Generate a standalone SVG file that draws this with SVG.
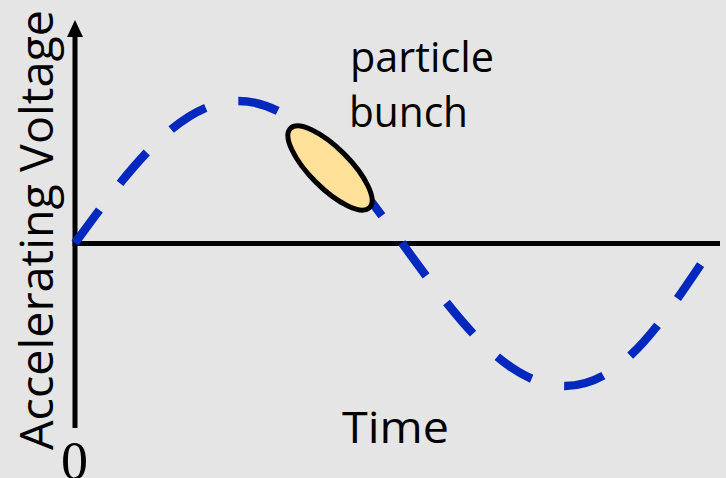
<svg xmlns="http://www.w3.org/2000/svg" width="726" height="478" viewBox="0 0 726 478">
  <style>
    .lbl { font-family: "Open Sans", "Noto Sans", sans-serif; fill: #000; }
    .axis { stroke: #000; stroke-width: 5; fill: none; }
    .wave { stroke: #0228BD; stroke-width: 8.5; fill: none; stroke-dasharray: 41 33.5; }
  </style>
  <rect x="0" y="0" width="726" height="478" fill="#e5e5e5"/>
  <g id="connectors">
    <line class="axis" x1="75" y1="428" x2="75" y2="34"/>
    <polygon points="75,20 67,37 83,37" fill="#000"/>
    <line class="axis" x1="72.5" y1="243.5" x2="720" y2="243.5"/>
    <path id="wave" class="wave" d="M75,243 C129.1,169.2 179.3,101 238.5,101 C297.7,101 347.9,169.2 402,243 C456,317.4 506,386 565,386 C620,386 660,325 705,258"/>
  </g>
  <g id="bunch">
    <ellipse cx="330" cy="168" rx="56" ry="20" transform="rotate(45 330 168)" fill="#FFE199" stroke="#000" stroke-width="5"/>
  </g>
  <g id="labels">
    <text class="lbl" x="350" y="72" font-size="42" textLength="144" lengthAdjust="spacingAndGlyphs">particle</text>
    <text class="lbl" x="349" y="127" font-size="42" textLength="119" lengthAdjust="spacingAndGlyphs">bunch</text>
    <text class="lbl" x="342" y="443" font-size="44" textLength="107" lengthAdjust="spacingAndGlyphs">Time</text>
    <text class="lbl" transform="translate(53 450) rotate(-90)" x="0" y="0" font-size="46" textLength="440" lengthAdjust="spacingAndGlyphs">Accelerating Voltage</text>
    <text x="74.5" y="479" font-family="'Liberation Serif', serif" font-size="54" text-anchor="middle">0</text>
  </g>
</svg>
